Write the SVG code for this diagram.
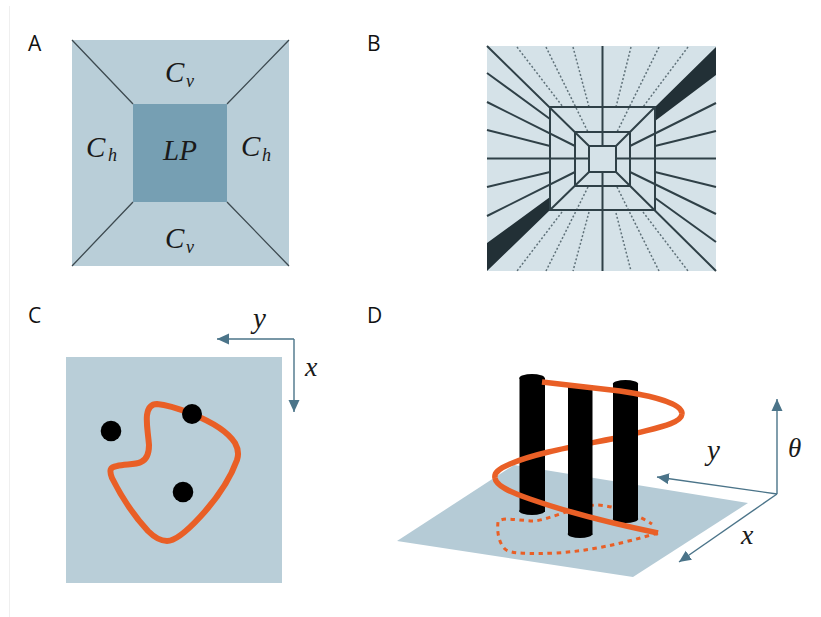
<svg xmlns="http://www.w3.org/2000/svg" width="821" height="617" viewBox="0 0 821 617">
<defs>
<marker id="at" markerUnits="userSpaceOnUse" markerWidth="13" markerHeight="13" refX="12" refY="6.5" orient="auto"><path d="M0,1 L12,6.5 L0,12 Z" fill="#4b7489"/></marker>
</defs>
<style>
.lab{font-family:"Open Sans","Liberation Sans",sans-serif;font-size:21px;fill:#111}
.m{font-family:"Liberation Serif",serif;font-style:italic;fill:#1a1a1a}
.big{font-size:29px}.sub{font-size:18px}
.bl{stroke:#2f4047;stroke-width:2;fill:none}
.dl{stroke:#5f7179;stroke-width:1.5;stroke-dasharray:2 2;fill:none}
.ax{stroke:#4b7489;stroke-width:1.4;fill:none;marker-end:url(#at)}
.or{stroke:#e95f26;stroke-width:5.5;fill:none}
.ord{stroke:#e95f26;stroke-width:3;stroke-dasharray:4.5 4.5;fill:none}
.pil{fill:#000}
</style>
<rect width="821" height="617" fill="#fff"/>
<path d="M9.5,617 V6" stroke="#efefef" stroke-width="1" fill="none"/>
<g id="label-A"><text class="lab" x="28" y="51">A</text></g>
<g id="label-B"><text class="lab" x="367" y="51">B</text></g>
<g id="label-C"><text class="lab" x="28" y="323">C</text></g>
<g id="label-D"><text class="lab" x="367" y="323">D</text></g>

<g id="panel-A">
<rect x="72" y="40" width="217" height="226" fill="#b9ced8"/>
<rect x="133" y="104" width="94" height="98" fill="#769fb3"/>
<path d="M72,40 L133,104 M289,40 L227,104 M72,266 L133,202 M289,266 L227,202" stroke="#3d4a50" stroke-width="1.3" fill="none"/>
<text class="m big" x="165" y="82">C</text><text class="m sub" x="186" y="87">v</text>
<text class="m big" x="86" y="157">C</text><text class="m sub" x="108" y="161">h</text>
<text class="m big" x="241" y="156">C</text><text class="m sub" x="262" y="161">h</text>
<text class="m big" x="163" y="160">LP</text>
<text class="m big" x="165" y="248">C</text><text class="m sub" x="186" y="253">v</text>
</g>

<g id="panel-B">
<rect x="487" y="46" width="229" height="225" fill="#d5e2e8"/>
<path d="M716,47 L716,75 L655,121 L655,107 Z M550,197 L550,210 L487,271 L487,243 Z" fill="#223036"/>
<path class="dl" d="M517,47 L563,107 M546,47 L588,132 M573,47 L589,107 M631,47 L616,107 M659,47 L617,132 M688,47 L643,107 M589,212 L573,271 M588,187 L546,271 M562,212 L517,271 M616,213 L631,271 M617,187 L659,271 M643,212 L688,271"/>
<path class="bl" d="M602.5,46 V146 M602.5,172 V271 M487,158.5 H589 M616,158.5 H716 M487,46 L589,146 M655,107 L616,146 M550,210 L589,172 M716,271 L616,172 M487,73 L550,119 M487,102 L575,146 M487,130 L550,146 M487,187 L550,172 M487,216 L575,172 M716,103 L630,146 M716,131 L655,146 M716,187 L655,172 M716,214 L630,172 M716,242 L655,198"/>
<rect class="bl" x="550" y="107" width="105" height="103"/>
<rect class="bl" x="575" y="132" width="55" height="54"/>
<rect class="bl" x="589" y="146" width="27" height="26"/>
</g>

<g id="panel-C">
<rect x="66" y="357" width="216" height="226" fill="#b9ced8"/>
<path class="ax" d="M294,339 H217"/>
<path class="ax" d="M294,339 V412"/>
<path d="M157,404 C170,405 182,410 192,414 C212,422 228,432 235,443 C239,450 238,457 237,460 C229,482 213,503 200,517 C188,530 176,541 167,541 C160,541 154,537 148,531 C135,517 122,498 112,478 C109,470 110,467 117,466 C125,464 135,465 141,462 C148,459 149,452 149,445 C148,432 146,424 147,415 C148,408 151,404 157,404 Z" fill="none" stroke="#e95f26" stroke-width="6"/>
<circle cx="111" cy="431" r="10.3"/>
<circle cx="192" cy="414" r="10"/>
<circle cx="183" cy="492" r="10.3"/>
<text class="m" font-size="29" x="253" y="328">y</text>
<text class="m" font-size="28" x="305" y="376">x</text>
</g>

<g id="panel-D">
<path d="M397,541 L514,465 L748,503 L633,577 Z" fill="#b5cbd6"/>
<path class="ord" d="M658,533 C620,544 590,551 556,553 C530,554 510,554 505,549 C498,542 497,530 498,522 C502,516 520,521 535,521 C550,519 575,507 595,505 C615,505 640,516 652,524"/>
<path class="ax" d="M777,494 V399"/>
<path class="ax" d="M777,494 L657,477"/>
<path class="ax" d="M777,494 L679,562"/>
<g id="pillar-1"><rect class="pil" x="519.5" y="378" width="25.5" height="134"/><ellipse class="pil" cx="532" cy="378" rx="12.7" ry="4"/><ellipse class="pil" cx="532" cy="511" rx="12.7" ry="4"/></g>
<path class="or" d="M682,414 C681,424 655,428 630,435 C590,444 540,451 510,464 C498,469 494,473 495,478"/>
<g id="pillar-2"><rect class="pil" x="568" y="385" width="24.5" height="150"/><ellipse class="pil" cx="580" cy="534" rx="12.3" ry="4"/></g>
<g id="pillar-3"><rect class="pil" x="613" y="384" width="25" height="135"/><ellipse class="pil" cx="625.5" cy="384" rx="12.7" ry="4"/><ellipse class="pil" cx="625.5" cy="519" rx="12.7" ry="4"/></g>
<path class="or" d="M542,382 L620,391 C660,397 683,405 682,414"/>
<path class="or" d="M495,478 C496,486 510,492 530,499 C570,513 610,523 658,533"/>
<text class="m" font-size="29" x="707" y="460">y</text>
<text class="m" font-size="28" x="741" y="544">x</text>
<text class="m" font-size="27" x="788" y="457">θ</text>
</g>
</svg>
